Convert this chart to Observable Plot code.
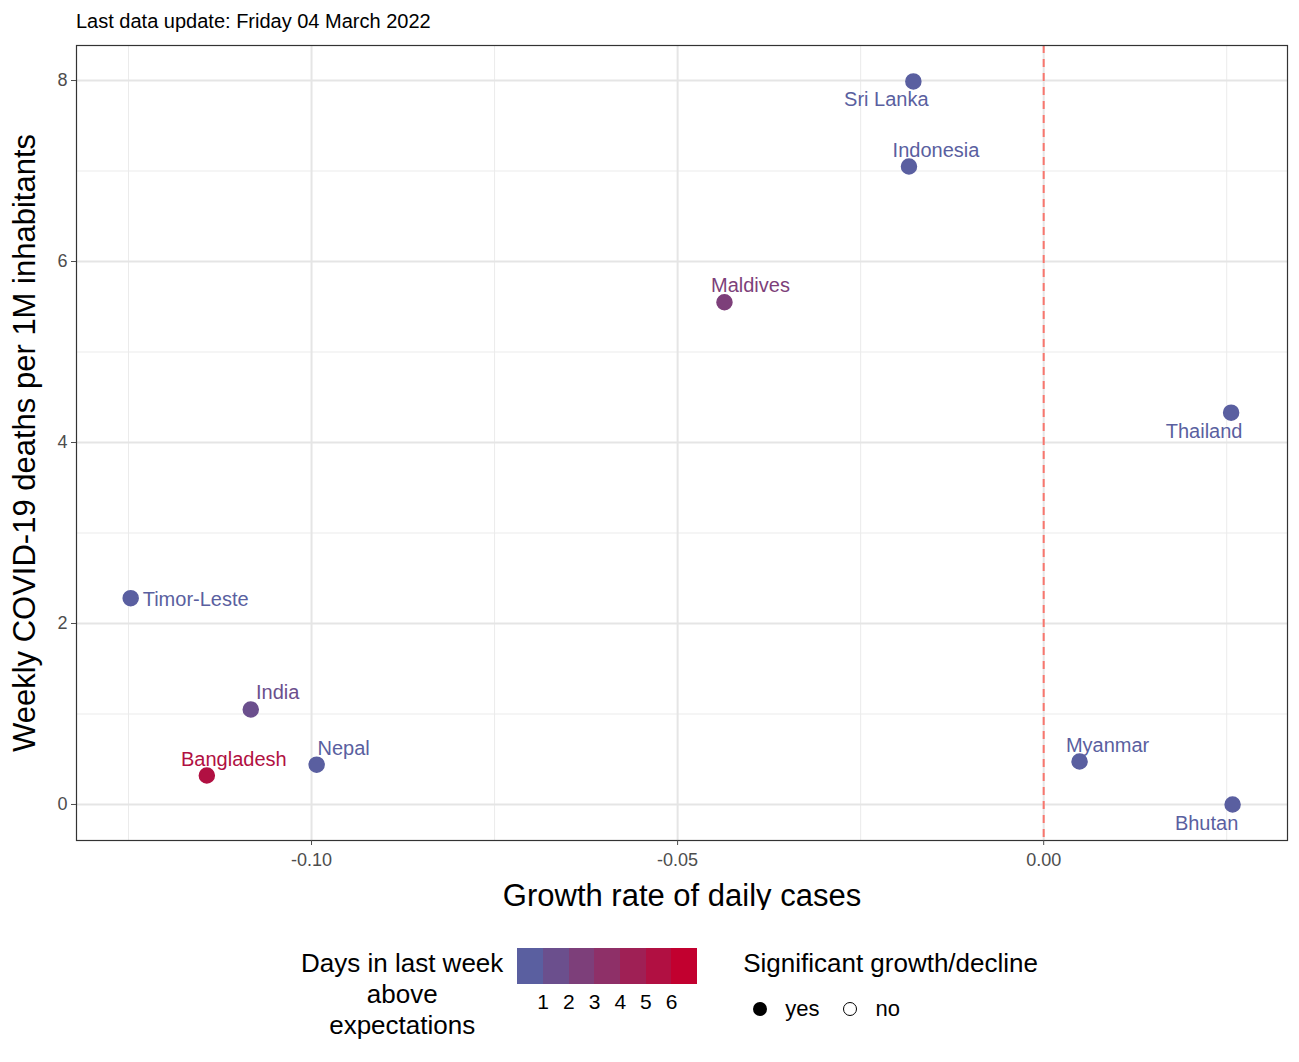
<!DOCTYPE html>
<html>
<head>
<meta charset="utf-8">
<script src="https://cdn.jsdelivr.net/npm/d3@7"></script>
<script src="https://cdn.jsdelivr.net/npm/@observablehq/plot@0.6"></script>
<style>
  body { margin: 0; font-family: "Liberation Sans", Arial, sans-serif; background: #fff; }
  #title { height: 35px; padding-left: 76px; font-size: 20px; line-height: 42px; color: #000; }
  #legend { display: flex; justify-content: center; align-items: flex-start; margin-top: 38px; padding-left: 40px; font-size: 26px; }
  .lt { text-align: center; line-height: 31px; }
  .sw { display: flex; margin-top: 0px; }
  .sw div { width: 25.7px; height: 36px; }
  .nums { display: flex; font-size: 21px; margin-left: 13px; margin-top: 6px; }
  .nums span { width: 25.7px; text-align: center; }
</style>
</head>
<body>
<div id="title">Last data update: Friday 04 March 2022</div>
<div id="chart"></div>
<div id="legend"></div>
<script>
const countries = ["Sri Lanka", "Indonesia", "Maldives", "Thailand", "Timor-Leste", "India", "Bangladesh", "Nepal", "Myanmar", "Bhutan"]
const growth = [-0.0178, -0.0184, -0.0436, 0.0256, -0.1247, -0.1083, -0.1143, -0.0993, 0.0049, 0.0258]
const deaths = [7.99, 7.05, 5.55, 4.33, 2.28, 1.05, 0.32, 0.44, 0.475, 0.0]
const daysAbove = [0, 1, 2, 0, 0, 1, 5, 0, 0, 0].map((d, i) => i === 1 ? 0 : d)
const significant = ["yes", "yes", "yes", "yes", "yes", "yes", "yes", "yes", "yes", "yes"]
const xTicks = [-0.10, -0.05, 0.00]
const xMinor = [-0.125, -0.075, -0.025, 0.025]
const yTicks = [0, 2, 4, 6, 8]
const yMinor = [1, 3, 5, 7]
const legendDays = [1, 2, 3, 4, 5, 6]

// label nudges (repel-like placement)
const labelOffsets = {
  "Sri Lanka": [-27, 18, "middle"], "Indonesia": [27, -16, "middle"], "Maldives": [26, -17, "middle"],
  "Thailand": [-27, 19, "middle"], "Timor-Leste": [12, 1, "start"], "India": [27, -17, "middle"],
  "Bangladesh": [27, -16, "middle"], "Nepal": [27, -16, "middle"], "Myanmar": [28, -16, "middle"],
  "Bhutan": [-26, 19, "middle"]
}

const color = d3.scaleLinear().domain([0, 6]).range(["#5A5FA0", "#C2002F"]).interpolate(d3.interpolateRgb)

const data = countries.map((c, i) => ({country: c, x: growth[i], y: deaths[i], days: daysAbove[i], sig: significant[i]}))

const labelMarks = data.map(d => {
  const [dx, dy, anchor] = labelOffsets[d.country]
  return Plot.text([d], {x: "x", y: "y", text: "country", dx, dy, textAnchor: anchor,
    fill: color(d.days), fontSize: 20})
})

const chart = Plot.plot({
  width: 1299, height: 875,
  marginLeft: 76, marginRight: 12, marginTop: 10, marginBottom: 70,
  style: {fontFamily: "Liberation Sans, Arial, sans-serif", background: "#fff", fontSize: "18px"},
  x: {domain: [-0.1321, 0.0333]},
  y: {domain: [-0.398, 8.387]},
  marks: [
    Plot.ruleX(xMinor, {stroke: "#ebebeb", strokeWidth: 1}),
    Plot.ruleY(yMinor, {stroke: "#ebebeb", strokeWidth: 1}),
    Plot.ruleX(xTicks, {stroke: "#e5e5e5", strokeWidth: 2}),
    Plot.ruleY(yTicks, {stroke: "#e5e5e5", strokeWidth: 2}),
    Plot.ruleX([0], {stroke: "#f8766d", strokeWidth: 2, strokeDasharray: "8,6"}),
    Plot.dot(data, {x: "x", y: "y", r: 7.5, fill: d => d.sig === "yes" ? color(d.days) : "white", stroke: d => color(d.days)}),
    ...labelMarks,
    Plot.frame({stroke: "#333", strokeWidth: 1.2}),
    Plot.axisX({ticks: xTicks, tickFormat: d => d.toFixed(2), tickSize: 5, fontSize: 18, color: "#4d4d4d", label: null, tickPadding: 8}),
    Plot.axisY({ticks: yTicks, tickFormat: d => String(d), tickSize: 5, fontSize: 18, color: "#4d4d4d", label: null, tickPadding: 4}),
    Plot.text(["Weekly COVID-19 deaths per 1M inhabitants"], {frameAnchor: "left", textAnchor: "middle", rotate: -90, dx: -51, fontSize: 31, fill: "#000"}),
    Plot.text(["Growth rate of daily cases"], {frameAnchor: "bottom", textAnchor: "middle", dy: 65, fontSize: 31, fill: "#000"})
  ]
})
d3.select("#chart").append(() => chart)

const legend = d3.select("#legend")
legend.append("div").attr("class", "lt").style("margin-right", "14px").html("Days in last week<br>above<br>expectations")
const cb = legend.append("div")
const sw = cb.append("div").attr("class", "sw")
d3.range(0, 7).forEach(i => sw.append("div").style("background", color(i)))
const nums = cb.append("div").attr("class", "nums")
legendDays.forEach(d => nums.append("span").text(d))
const sg = legend.append("div").style("margin-left", "46px").style("line-height", "31px")
sg.append("div").text("Significant growth/decline")
const row = sg.append("div").style("display", "flex").style("align-items", "center").style("margin-top", "14px").style("font-size", "22px")
row.append("span").style("display", "inline-block").style("width", "14px").style("height", "14px").style("border-radius", "50%").style("background", "#000").style("margin", "0 18px 0 10px")
row.append("span").text("yes")
row.append("span").style("display", "inline-block").style("width", "12px").style("height", "12px").style("border-radius", "50%").style("border", "1.5px solid #000").style("margin", "0 18px 0 24px")
row.append("span").text("no")
</script>
</body>
</html>
